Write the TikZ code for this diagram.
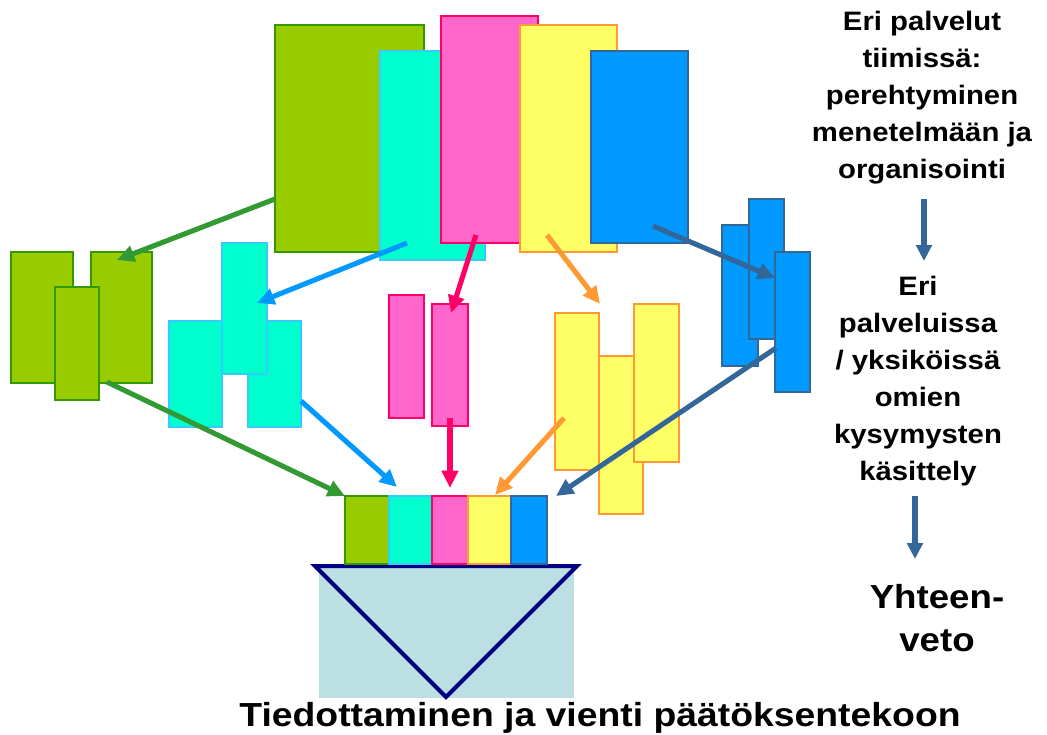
\documentclass[tikz,border=0pt]{standalone}
\usepackage{fontspec}
\setmainfont{Liberation Sans}
\newfontfamily\rightfont[FakeStretch=1.1]{Liberation Sans}
\newfontfamily\bottomfont[FakeStretch=1.12]{Liberation Sans}
\usetikzlibrary{arrows.meta,fit}
\definecolor{gfill}{HTML}{99CC00}\definecolor{gline}{HTML}{339900}
\definecolor{cfill}{HTML}{00FFCC}\definecolor{cline}{HTML}{33CCFF}
\definecolor{pfill}{HTML}{FF66CC}\definecolor{pline}{HTML}{FF0066}
\definecolor{yfill}{HTML}{FFFF66}\definecolor{yline}{HTML}{FF9933}
\definecolor{bfill}{HTML}{0099FF}\definecolor{bline}{HTML}{336699}
\definecolor{garr}{HTML}{339933}\definecolor{carr}{HTML}{0099FF}
\definecolor{parr}{HTML}{FF0066}\definecolor{yarr}{HTML}{FF9933}
\definecolor{barr}{HTML}{336699}\definecolor{funnel}{HTML}{BBDFE2}
\definecolor{navy}{HTML}{000080}
\newcommand{\rbox}[6]{%
  \coordinate (#1-a) at (#3,#4); \coordinate (#1-b) at (#5,#6);
  \node[fit=(#1-a)(#1-b), inner sep=0pt, #2] (#1) {};}
\tikzset{
  gbox/.style={draw=gline, fill=gfill, line width=1pt},
  cbox/.style={draw=cline, fill=cfill, line width=1pt},
  pbox/.style={draw=pline, fill=pfill, line width=1pt},
  ybox/.style={draw=yline, fill=yfill, line width=1pt},
  bbox/.style={draw=bline, fill=bfill, line width=1pt},
  arr/.style={line width=3.8pt, -{Triangle[length=13pt,width=12pt]}},
  sarr/.style={draw=barr, line width=4.2pt, -{Triangle[length=12pt,width=11.5pt]}},
  txt/.style={align=center, font=\rightfont\bfseries\fontsize{20}{27.8}\selectfont, inner sep=0pt},
  yvtxt/.style={align=center, font=\rightfont\bfseries\fontsize{25}{32}\selectfont, inner sep=0pt},
  bigtxt/.style={align=center, font=\bottomfont\bfseries\fontsize{25}{30}\selectfont, inner sep=0pt}
}
\begin{document}
\begin{tikzpicture}[x=0.75pt,y=-0.75pt]
\useasboundingbox (0,0) rectangle (1047,735);
% top big rectangles
\rbox{G}{gbox}{275}{25}{424}{252}
\rbox{C}{cbox}{380}{51}{485}{260}
\rbox{P}{pbox}{441}{16}{538}{243}
\rbox{Y}{ybox}{520}{25}{617}{252}
\rbox{B}{bbox}{591}{51}{688}{243}
% green group
\rbox{g1}{gbox}{11}{252}{73}{383}
\rbox{g2}{gbox}{91}{252}{152}{383}
\rbox{g3}{gbox}{55}{287}{99}{400}
% cyan group
\rbox{c1}{cbox}{169}{321}{222}{427}
\rbox{c2}{cbox}{248}{321}{301}{427}
\rbox{c3}{cbox}{222}{243}{267}{374}
% pink group
\rbox{p1}{pbox}{389}{295}{424}{418}
\rbox{p2}{pbox}{432}{304}{468}{426}
% yellow group
\rbox{y1}{ybox}{555}{313}{599}{470}
\rbox{y2}{ybox}{599}{356}{643}{514}
\rbox{y3}{ybox}{634}{304}{679}{462}
% blue group
\rbox{b1}{bbox}{722}{225}{758}{366}
\rbox{b2}{bbox}{749}{199}{784}{339}
\rbox{b3}{bbox}{775}{252}{810}{392}
% funnel
\rbox{F}{fill=funnel}{319}{564}{574}{698}
\coordinate (t1) at (315,566); \coordinate (t2) at (577,566); \coordinate (t3) at (446,697);
\draw[navy, line width=3pt, line join=miter] (t1) -- (t2) -- (t3) -- cycle;
% bottom bar
\rbox{s1}{gbox}{345}{496}{389}{564}
\rbox{s2}{cbox}{389}{496}{432}{564}
\rbox{s3}{pbox}{432}{496}{468}{564}
\rbox{s4}{ybox}{468}{496}{511}{564}
\rbox{s5}{bbox}{511}{496}{547}{564}
% arrow endpoints
\coordinate (ga1) at (275,199); \coordinate (ga2) at (117,260);
\coordinate (gb1) at (107,382); \coordinate (gb2) at (345,496);
\coordinate (ca1) at (407,243); \coordinate (ca2) at (257,303);
\coordinate (cb1) at (301,401); \coordinate (cb2) at (397,487);
\coordinate (pa1) at (476,235); \coordinate (pa2) at (451,313);
\coordinate (pb1) at (450,418); \coordinate (pb2) at (450,488);
\coordinate (ya1) at (547,235); \coordinate (ya2) at (600,304);
\coordinate (yb1) at (564,418); \coordinate (yb2) at (495,495);
\coordinate (ba1) at (653,226); \coordinate (ba2) at (775,278);
\coordinate (bb1) at (776,348); \coordinate (bb2) at (556,496);
\draw[arr, garr] (ga1) -- (ga2);
\draw[arr, garr] (gb1) -- (gb2);
\draw[arr, carr] (ca1) -- (ca2);
\draw[arr, carr] (cb1) -- (cb2);
\draw[arr, parr] (pa1) -- (pa2);
\draw[arr, parr] (pb1) -- (pb2);
\draw[arr, yarr] (ya1) -- (ya2);
\draw[arr, yarr] (yb1) -- (yb2);
\draw[arr, barr] (ba1) -- (ba2);
\draw[arr, barr] (bb1) -- (bb2);
% right texts
\node[txt, anchor=north] (T1) at (922,11) {Eri palvelut\\tiimissä:\\perehtyminen\\menetelmään ja\\organisointi};
\node[txt, anchor=north] (T2) at (918,276) {Eri\\palveluissa\\/ yksiköissä\\omien\\kysymysten\\käsittely};
\node[yvtxt, anchor=north] (T3) at (937,584) {Yhteen-\\veto};
\coordinate (r1a) at (924,199); \coordinate (r1b) at (924,261);
\coordinate (r2a) at (915,496); \coordinate (r2b) at (915,559);
\draw[sarr] (r1a) -- (r1b);
\draw[sarr] (r2a) -- (r2b);
\node[bigtxt, anchor=base] (BT) at (600,726) {Tiedottaminen ja vienti päätöksentekoon};
\end{tikzpicture}
\end{document}
